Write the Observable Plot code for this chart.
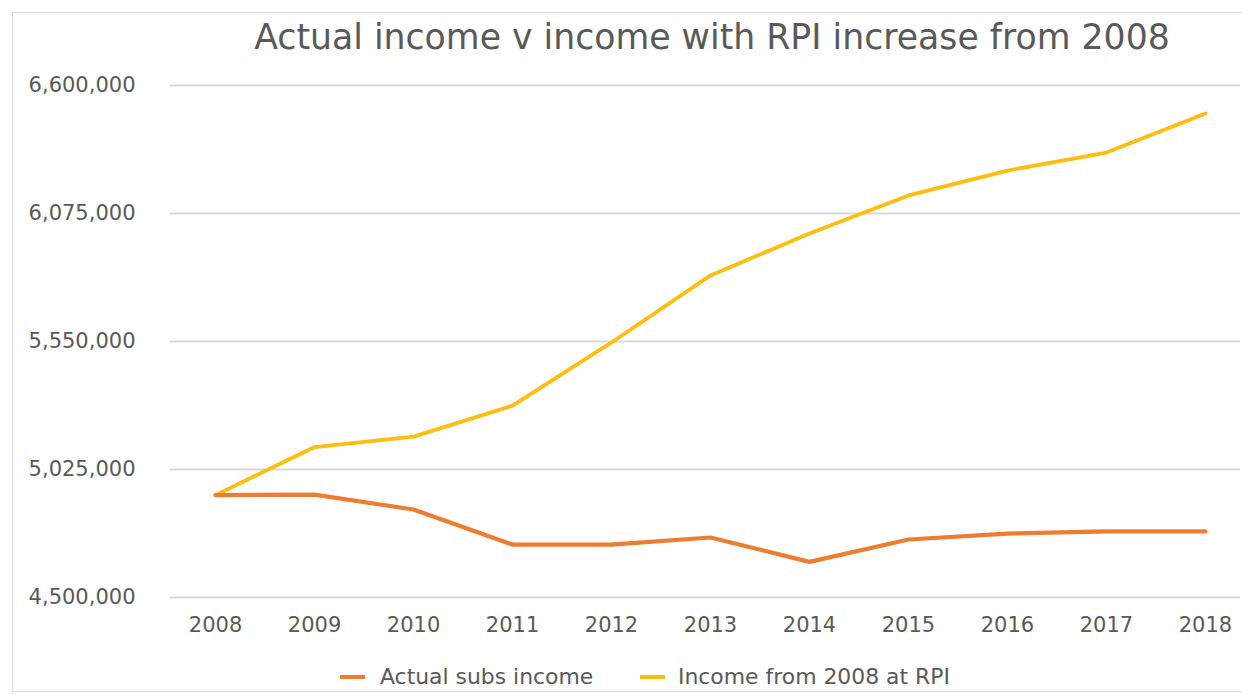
<!DOCTYPE html>
<html><head><meta charset="utf-8">
<script src="https://cdn.jsdelivr.net/npm/d3@7"></script>
<script src="https://cdn.jsdelivr.net/npm/@observablehq/plot@0.6"></script>
<style>
body{margin:0;background:#fff;font-family:"DejaVu Sans",sans-serif;}
#wrap{position:relative;width:1242px;height:695px;overflow:hidden;background:#fff;}
#frame{position:absolute;left:12px;top:12px;width:1260px;height:678px;border:1px solid #d9d9d9;}
#title{position:absolute;top:20px;left:712px;transform:translateX(-50%);white-space:nowrap;font-size:34.7px;line-height:34.7px;color:#595959;}
#chart{position:absolute;left:0;top:62px;}
.sw{position:absolute;width:25px;height:4px;}
.lt{position:absolute;font-size:21.9px;line-height:22px;color:#595959;white-space:nowrap;}
</style></head>
<body>
<div id="wrap">
  <div id="frame"></div>
  <div id="title">Actual income v income with RPI increase from 2008</div>
  <div id="chart"></div>
  <div id="legend"></div>
</div>
<script>
const years = [2008, 2009, 2010, 2011, 2012, 2013, 2014, 2015, 2016, 2017, 2018];
const actualIncome = [4920000, 4922000, 4861000, 4717000, 4717000, 4746000, 4646000, 4738000, 4762000, 4771000, 4771000];
const rpiIncome = [4920000, 5117000, 5160000, 5287000, 5546000, 5821000, 5993000, 6149000, 6251000, 6325000, 6485000];
const seriesNames = ["Actual subs income", "Income from 2008 at RPI"];
const seriesColors = ["#ED7D31", "#FDBE10"];
const yTicks = [4500000, 5025000, 5550000, 6075000, 6600000];

const actualData = years.map((yr, i) => ({year: yr, value: actualIncome[i]}));
const rpiData = years.map((yr, i) => ({year: yr, value: rpiIncome[i]}));

const chart = Plot.plot({
  width: 1242,
  height: 595,
  marginLeft: 170,
  marginRight: 2,
  marginTop: 23,
  marginBottom: 60,
  style: {color: "#595959", fontFamily: "DejaVu Sans, sans-serif", background: "transparent"},
  x: {type: "linear", domain: [2007.545, 2018.354]},
  y: {domain: [yTicks[0], yTicks[yTicks.length - 1]]},
  marks: [
    Plot.gridY(yTicks, {stroke: "#d9d9d9", strokeOpacity: 1, strokeWidth: 2}),
    Plot.axisY(yTicks, {tickSize: 0, tickPadding: 35, tickFormat: d3.format(","), fontSize: 21, label: null}),
    Plot.axisX(years, {tickSize: 0, tickPadding: 20, tickFormat: d => String(d), fontSize: 21, label: null}),
    Plot.line(rpiData, {x: "year", y: "value", stroke: seriesColors[1], strokeWidth: 3.8}),
    Plot.line(actualData, {x: "year", y: "value", stroke: seriesColors[0], strokeWidth: 4.2})
  ]
});
document.getElementById("chart").appendChild(chart);

const legend = document.getElementById("legend");
const swX = [340, 640];
const txX = [380, 678];
seriesNames.forEach((name, i) => {
  const sw = document.createElement("div");
  sw.className = "sw";
  sw.style.left = swX[i] + "px";
  sw.style.top = "675px";
  sw.style.background = seriesColors[i];
  legend.appendChild(sw);
  const t = document.createElement("div");
  t.className = "lt";
  t.style.left = txX[i] + "px";
  t.style.top = "666px";
  t.textContent = name;
  legend.appendChild(t);
});
</script>
</body></html>
